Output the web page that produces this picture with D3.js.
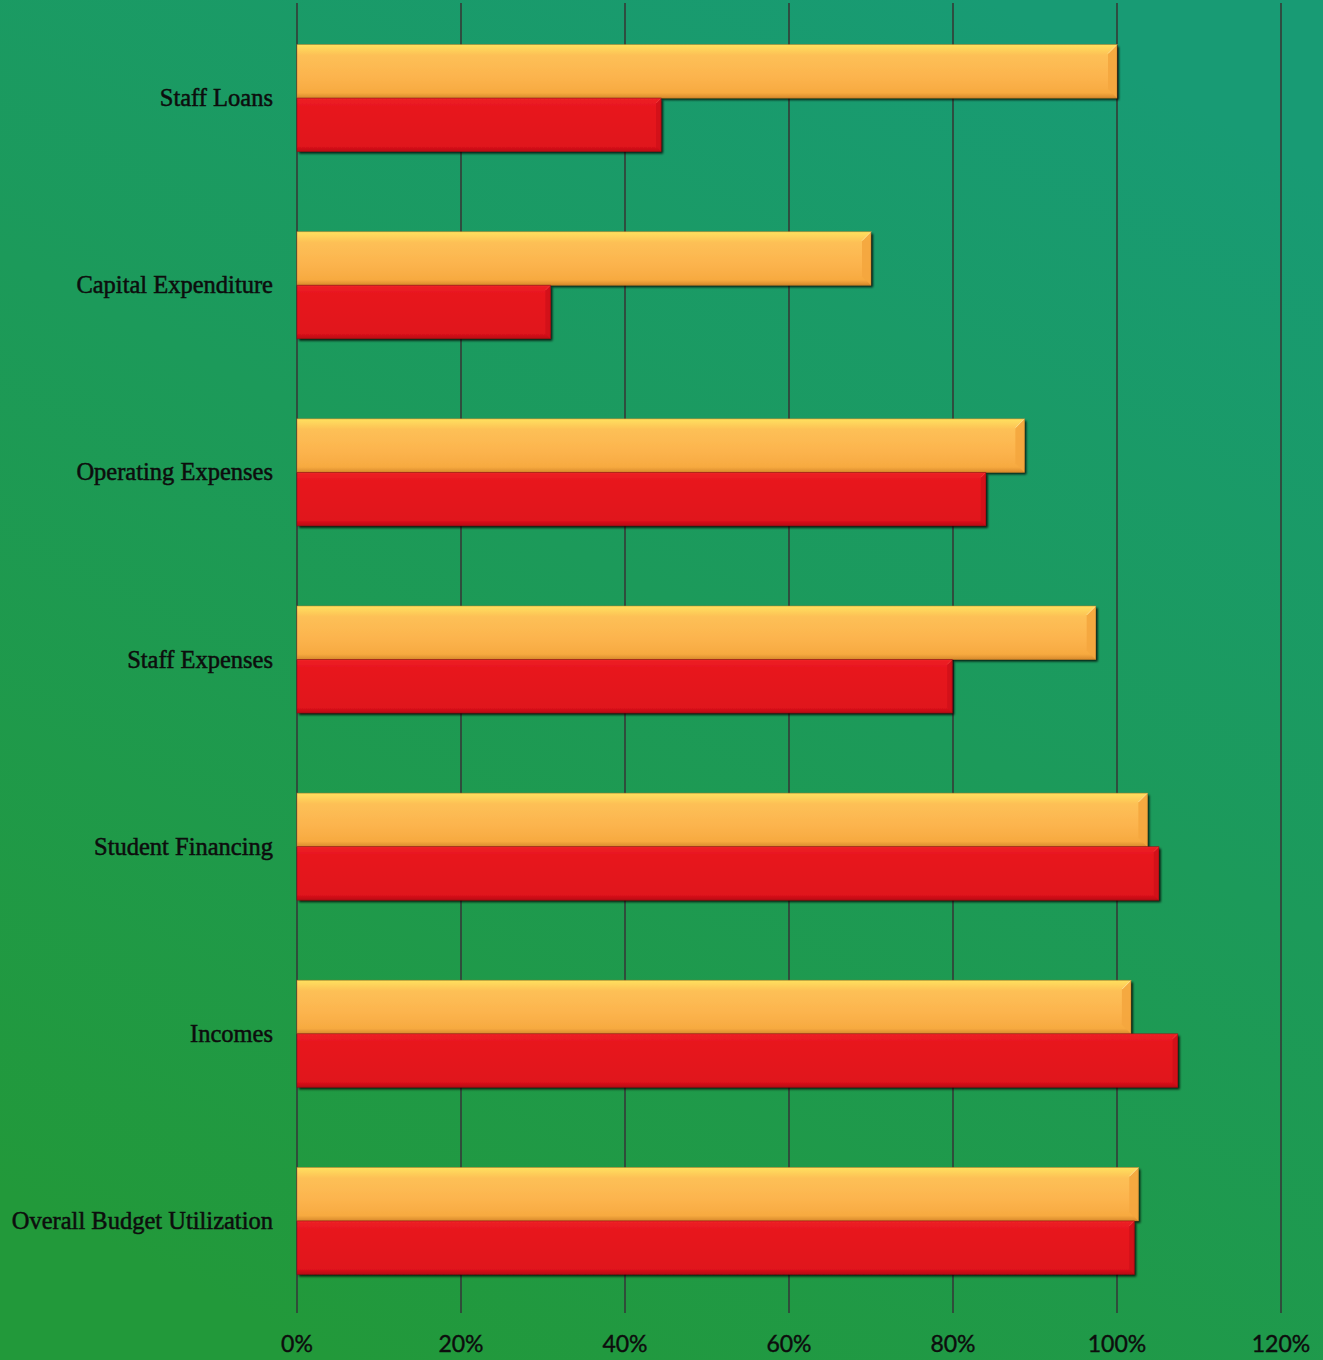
<!DOCTYPE html>
<html><head><meta charset="utf-8">
<script src="https://cdn.jsdelivr.net/npm/d3@7"></script>
<style>html,body{margin:0;padding:0;background:#1e9a55;}svg{display:block;}</style>
</head><body>
<script>
const categories = ["Staff Loans","Capital Expenditure","Operating Expenses","Staff Expenses","Student Financing","Incomes","Overall Budget Utilization"];
const seriesNames = ["Orange","Red"];
const orangeValues = [1.00, 0.70, 0.887, 0.974, 1.037, 1.017, 1.026];
const redValues = [0.444, 0.309, 0.840, 0.799, 1.051, 1.074, 1.021];
const tickValues = [0, 0.2, 0.4, 0.6, 0.8, 1.0, 1.2];
const tickLabels = ["0%","20%","40%","60%","80%","100%","120%"];

const W = 1323, H = 1360;
const svg = d3.select("body").append("svg").attr("width", W).attr("height", H);
const defs = svg.append("defs");

const bg = defs.append("linearGradient").attr("id","bg").attr("x1","0.75").attr("y1","0").attr("x2","0.25").attr("y2","1");
bg.append("stop").attr("offset","0").attr("stop-color","#189b74");
bg.append("stop").attr("offset","0.45").attr("stop-color","#1c9a5a");
bg.append("stop").attr("offset","1").attr("stop-color","#22993a");
svg.append("rect").attr("width",W).attr("height",H).attr("fill","url(#bg)");

const og = defs.append("linearGradient").attr("id","og").attr("x1","0").attr("y1","0").attr("x2","0").attr("y2","1");
og.append("stop").attr("offset","0").attr("stop-color","#ffe15e");
og.append("stop").attr("offset","0.2").attr("stop-color","#fdc056");
og.append("stop").attr("offset","0.6").attr("stop-color","#fcb44e");
og.append("stop").attr("offset","0.9").attr("stop-color","#f7aa40");
og.append("stop").attr("offset","1").attr("stop-color","#d88a2c");
const rg = defs.append("linearGradient").attr("id","rg").attr("x1","0").attr("y1","0").attr("x2","0").attr("y2","1");
rg.append("stop").attr("offset","0").attr("stop-color","#ee2226");
rg.append("stop").attr("offset","0.15").attr("stop-color","#e8161f");
rg.append("stop").attr("offset","0.9").attr("stop-color","#e0121b");
rg.append("stop").attr("offset","1").attr("stop-color","#b80e14");

const sh = defs.append("filter").attr("id","sh").attr("x","-5%").attr("y","-20%").attr("width","110%").attr("height","150%");
sh.append("feDropShadow").attr("dx",2).attr("dy",2).attr("stdDeviation",1.2).attr("flood-color","#000").attr("flood-opacity",0.8);

const x = d3.scaleLinear().domain([0,1.2]).range([297,1281]);
const y = d3.scaleBand().domain(categories).range([4.5,1314.5]).paddingInner(0.428).paddingOuter(0.214);
const ys = d3.scaleBand().domain(seriesNames).range([0,y.bandwidth()]);

// gridlines
svg.append("g").selectAll("line").data(tickValues).join("line")
  .attr("x1",d=>x(d)).attr("x2",d=>x(d)).attr("y1",3).attr("y2",1313)
  .attr("stroke","#334039").attr("stroke-width",1.7);

// axis labels
svg.append("g").selectAll("text").data(tickValues).join("text")
  .attr("x",d=>x(d)).attr("y",1352).attr("text-anchor","middle")
  .attr("font-family","Lato, 'Open Sans', sans-serif").attr("font-size",23).attr("fill","#0d0d0d")
  .attr("stroke","#0d0d0d").attr("stroke-width",0.4)
  .text((d,i)=>tickLabels[i]);

// category labels
svg.append("g").selectAll("text").data(categories).join("text")
  .attr("x",273).attr("y",d=>y(d)+y.bandwidth()/2).attr("dy","0.33em").attr("text-anchor","end")
  .attr("font-family","'Liberation Serif', 'DejaVu Serif', serif").attr("font-size",24.5).attr("fill","#0d0d0d")
  .attr("stroke","#0d0d0d").attr("stroke-width",0.5)
  .text(d=>d);

const data = [];
categories.forEach((c,i)=>{
  data.push({cat:c, s:"Orange", v:orangeValues[i]});
  data.push({cat:c, s:"Red", v:redValues[i]});
});

const bars = svg.append("g").selectAll("g").data(data).join("g");
bars.each(function(d){
  const g = d3.select(this);
  const x0 = x(0), x1 = x(d.v);
  const y0 = y(d.cat)+ys(d.s), h = ys.bandwidth();
  const isO = d.s==="Orange";
  g.append("rect").attr("x",x0).attr("y",y0).attr("width",x1-x0).attr("height",h)
    .attr("fill", isO?"url(#og)":"url(#rg)").attr("filter","url(#sh)");
  const b = isO?9:5;
  // right bevel
  g.append("path").attr("d",`M${x1},${y0}L${x1},${y0+h}L${x1-b},${y0+h-b}L${x1-b},${y0+b}Z`)
    .attr("fill", isO?"#f4a63e":"#d01119").attr("opacity",0.9);
  // top-right diagonal highlight
  g.append("path").attr("d",`M${x1},${y0}L${x1-b},${y0+b}`)
    .attr("stroke", isO?"#ffe9a0":"#f04040").attr("stroke-width",1).attr("opacity",0.8);
  // edge outline
  g.append("rect").attr("x",x0).attr("y",y0).attr("width",x1-x0).attr("height",h)
    .attr("fill","none").attr("stroke", isO?"#b8782a":"#8a0c10").attr("stroke-width",0.8).attr("opacity",0.6);
});
</script>
</body></html>
